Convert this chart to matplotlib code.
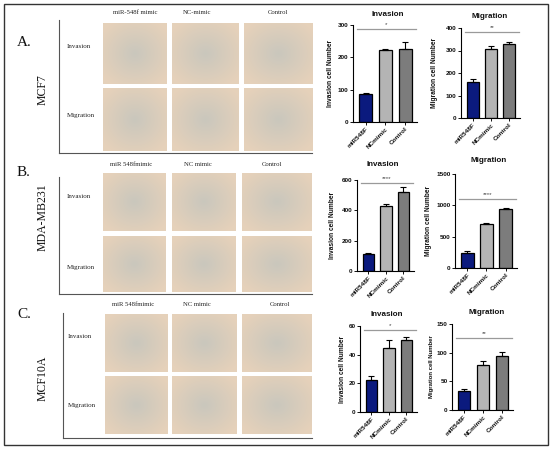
import numpy as np
import matplotlib
matplotlib.use("Agg")
import matplotlib.pyplot as plt
from matplotlib.lines import Line2D
from matplotlib.patches import Rectangle

# ---------------- data ----------------
categories = ["miR548F", "NCmimic", "Control"]
bar_colors = ["#0b1a7e", "#b4b4b4", "#7c7c7c"]

mcf7_invasion = [87, 222, 226]
mcf7_invasion_err = [3, 3, 20]
mcf7_migration = [160, 308, 330]
mcf7_migration_err = [12, 12, 10]

mda_invasion = [115, 430, 520]
mda_invasion_err = [5, 12, 35]
mda_migration = [245, 705, 935]
mda_migration_err = [20, 10, 25]

mcf10a_invasion = [22.5, 44.5, 50]
mcf10a_invasion_err = [2.5, 5.5, 2.5]
mcf10a_migration = [34, 78, 94]
mcf10a_migration_err = [3, 7, 8]

section_letters = ["A.", "B.", "C."]
cell_lines = ["MCF7", "MDA-MB231", "MCF10A"]
col_headers = [["miR-548f mimic", "NC-mimic", "Control"],
               ["miR 548fmimic", "NC mimic", "Control"],
               ["miR 548fmimic", "NC mimic", "Control"]]
row_labels = ["Invasion", "Migration"]
stars = [["*", "**"], ["****", "****"], ["*", "**"]]

# ---------------- figure ----------------
W, H = 550, 449
fig = plt.figure(figsize=(W / 100, H / 100), dpi=100)
fig.patch.set_facecolor("white")

def fx(x):
    return x / W

def fy(y):
    return 1 - y / H

SERIF = ["Liberation Serif", "DejaVu Serif"]
SANS = ["Liberation Sans", "DejaVu Sans"]

# outer frame
fig.add_artist(Rectangle((fx(4), fy(445)), fx(544), 441 / H, transform=fig.transFigure,
                         fill=False, edgecolor="#333333", linewidth=1.0))

# ---------------- image panels (placeholders) ----------------
gx, gy = np.meshgrid(np.linspace(-1, 1, 60), np.linspace(-1, 1, 60))
rad = np.clip(np.sqrt(gx ** 2 + gy ** 2) / 1.25, 0, 1)
c_center = np.array([0.79, 0.78, 0.74])
c_edge = np.array([0.90, 0.82, 0.73])
grad = c_center[None, None, :] * (1 - rad[..., None]) + c_edge[None, None, :] * rad[..., None]

sections = [
    dict(rows=[(23, 84), (88, 151)], cols=[(103, 167), (172, 239), (244, 313)],
         lx=59, ltop=20, lbot=153, letter_y=43, line_y=90, head_y=13,
         head_x=[135, 197, 278], row_y=[47, 115], row_x=67),
    dict(rows=[(173, 231), (236, 292)], cols=[(103, 166), (172, 236), (242, 312)],
         lx=59, ltop=177, lbot=294, letter_y=172, line_y=217, head_y=165,
         head_x=[131, 198, 272], row_y=[197, 267], row_x=67),
    dict(rows=[(314, 372), (376, 434)], cols=[(105, 168), (172, 237), (242, 312)],
         lx=63, ltop=313, lbot=438, letter_y=315, line_y=378, head_y=305,
         head_x=[133, 197, 280], row_y=[337, 406], row_x=68),
]

for si, s in enumerate(sections):
    for (y0, y1) in s["rows"]:
        for (x0, x1) in s["cols"]:
            ax = fig.add_axes([fx(x0), fy(y1), (x1 - x0) / W, (y1 - y0) / H])
            ax.imshow(grad, aspect="auto", interpolation="bilinear")
            ax.set_axis_off()
    # L-shaped frame
    fig.add_artist(Line2D([fx(s["lx"]), fx(s["lx"])], [fy(s["ltop"]), fy(s["lbot"])],
                          transform=fig.transFigure, color="#555555", lw=0.8))
    fig.add_artist(Line2D([fx(s["lx"]), fx(312)], [fy(s["lbot"]), fy(s["lbot"])],
                          transform=fig.transFigure, color="#555555", lw=0.8))
    fig.text(fx(17), fy(s["letter_y"]), section_letters[si], family=SERIF, fontsize=11,
             ha="left", va="center", color="#111111")
    fig.text(fx(43), fy(s["line_y"]), cell_lines[si], family=SERIF, fontsize=8.5,
             rotation=90, ha="center", va="center", color="#111111")
    for hx, ht in zip(s["head_x"], col_headers[si]):
        fig.text(fx(hx), fy(s["head_y"]), ht, family=SERIF, fontsize=4.8,
                 ha="center", va="center", color="#222222")
    for ry, rt in zip(s["row_y"], row_labels):
        fig.text(fx(s["row_x"]), fy(ry), rt, family=SERIF, fontsize=5,
                 ha="left", va="center", color="#222222")

# ---------------- bar charts ----------------
def bar_panel(px, vals, errs, ymax, step, title, title_xy, ylabel, ylabel_x,
              star, sig_y, ylabel_size=4.8):
    x0, x1, ytop, ybot = px
    ax = fig.add_axes([fx(x0), fy(ybot), (x1 - x0) / W, (ybot - ytop) / H])
    pos = np.arange(len(categories))
    ax.bar(pos, vals, width=0.66, color=bar_colors, edgecolor="black", linewidth=0.9,
           zorder=2)
    ax.errorbar(pos, vals, yerr=[[0] * len(errs), errs], fmt="none", ecolor="black",
                elinewidth=0.8, capsize=2.2, capthick=0.8, zorder=3)
    ax.set_ylim(0, ymax)
    ax.set_xlim(-0.65, 2.6)
    ax.set_yticks(np.arange(0, ymax + step / 2, step))
    ax.set_xticks(pos)
    ax.set_xticklabels(categories, rotation=45, ha="right", rotation_mode="anchor",
                       fontsize=4.6, fontweight="bold", family=SANS)
    for lab in ax.get_yticklabels():
        lab.set_fontsize(4.6)
        lab.set_fontweight("bold")
        lab.set_family(SANS)
    ax.tick_params(axis="both", length=2, width=0.7, pad=1.2, colors="#111111")
    for sp in ["top", "right"]:
        ax.spines[sp].set_visible(False)
    for sp in ["left", "bottom"]:
        ax.spines[sp].set_linewidth(0.8)
    ax.patch.set_alpha(0)
    ax.plot([-0.45, 2.55], [sig_y, sig_y], color="#9a9a9a", lw=0.9, clip_on=False)
    ax.text(1.05, sig_y + ymax * 0.025, star, ha="center", va="bottom", fontsize=4.5,
            color="#444444", family=SANS)
    fig.text(fx(title_xy[0]), fy(title_xy[1]), title, ha="center", va="center",
             fontsize=5.8, fontweight="bold", family=SANS, color="#111111")
    fig.text(fx(ylabel_x), fy((ytop + ybot) / 2), ylabel, rotation=90, ha="center",
             va="center", fontsize=ylabel_size, fontweight="bold", family=SANS,
             color="#111111")
    return ax

bar_panel((353, 417, 25, 122), mcf7_invasion, mcf7_invasion_err, 300, 100,
          "Invasion", (388, 15), "Invasion cell Number", 331, stars[0][0], 287)
bar_panel((461, 520, 28, 118), mcf7_migration, mcf7_migration_err, 400, 100,
          "Migration", (490, 16), "Migration cell Number", 435, stars[0][1], 383)

bar_panel((357, 414, 180, 271), mda_invasion, mda_invasion_err, 600, 200,
          "Invasion", (383, 165), "Invasion cell Number", 333, stars[1][0], 580)
bar_panel((455, 517, 174, 268), mda_migration, mda_migration_err, 1500, 500,
          "Migration", (489, 160), "Migration cell Number", 428, stars[1][1], 1100)

bar_panel((360, 417, 326, 412), mcf10a_invasion, mcf10a_invasion_err, 60, 20,
          "Invasion", (387, 315), "Invasion cell Number", 343, stars[2][0], 57)
bar_panel((452, 513, 324, 410), mcf10a_migration, mcf10a_migration_err, 150, 50,
          "Migration", (487, 313), "Migration cell Number", 432, stars[2][1], 126,
          ylabel_size=4.3)

fig.savefig("out.png", dpi=100, facecolor="white")
